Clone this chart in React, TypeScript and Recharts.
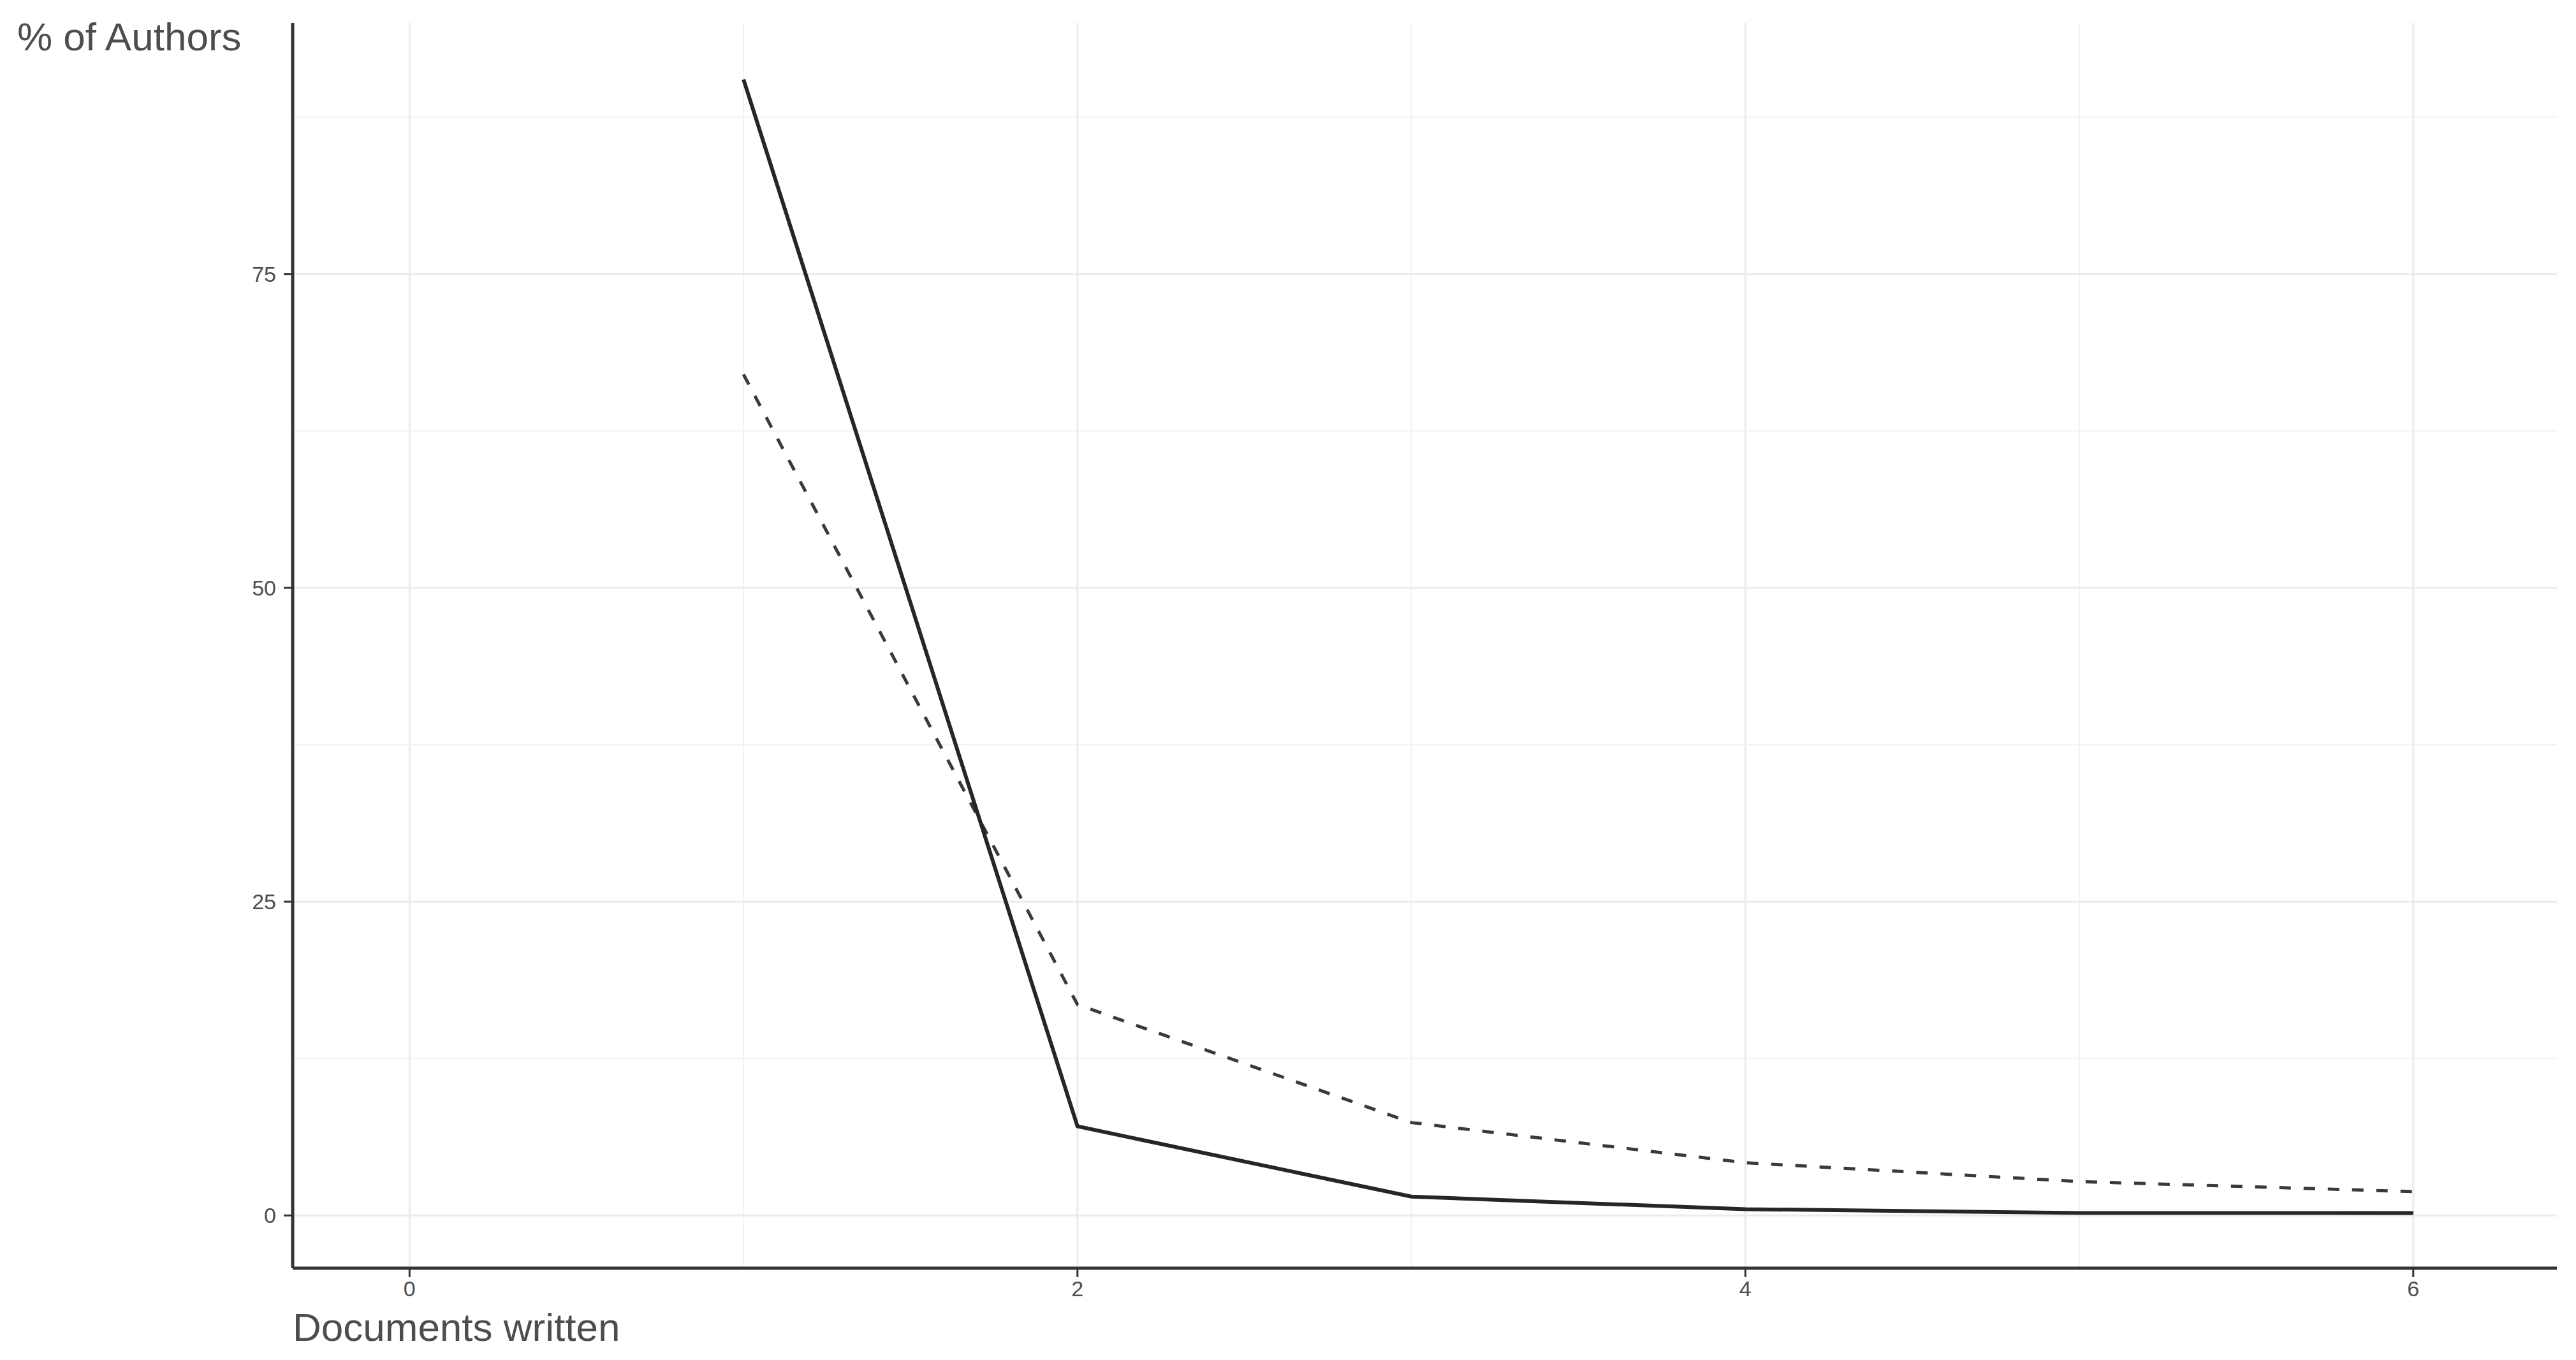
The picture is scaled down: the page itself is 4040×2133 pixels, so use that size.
import { LineChart, Line, XAxis, YAxis, ReferenceLine, Label } from 'recharts';

const documents = [1, 2, 3, 4, 5, 6];
const observed = [90.5, 7.1, 1.5, 0.5, 0.2, 0.2];
const theoretical = [67.0, 16.8, 7.4, 4.2, 2.7, 1.9];

const xTicks = [0, 2, 4, 6];
const xMinor = [1, 3, 5];
const yTicks = [0, 25, 50, 75];
const yMinor = [12.5, 37.5, 62.5, 87.5];

const data = documents.map((d, i) => ({ docs: d, observed: observed[i], theoretical: theoretical[i] }));

const FONT = '"Liberation Sans", Arial, Helvetica, sans-serif';
const AXIS = '#333333';
const TEXT = '#4d4d4d';

export default function App() {
    return (
        <div style={{ position: 'absolute', left: 0, top: 0, width: 4040, height: 2133, background: '#fff', fontFamily: FONT }}>
            <LineChart width={4040} height={2133} data={data} margin={{ top: 36, right: 30, left: 0, bottom: 0 }}>
                {xMinor.concat(xTicks).map((v) => (
                    <ReferenceLine key={'x' + v} x={v} stroke={xTicks.includes(v) ? '#ebebeb' : '#f2f2f2'} strokeWidth={xTicks.includes(v) ? 3 : 2} />
                ))}
                {yMinor.concat(yTicks).map((v) => (
                    <ReferenceLine key={'y' + v} y={v} stroke={yTicks.includes(v) ? '#ebebeb' : '#f2f2f2'} strokeWidth={yTicks.includes(v) ? 3 : 2} />
                ))}
                <XAxis
                    dataKey="docs"
                    type="number"
                    domain={[-0.35, 6.43]}
                    ticks={xTicks}
                    allowDataOverflow
                    height={144}
                    axisLine={{ stroke: AXIS, strokeWidth: 5 }}
                    tickLine={{ stroke: AXIS, strokeWidth: 3 }}
                    tickSize={14}
                    tickMargin={6}
                    tick={{ fill: TEXT, fontSize: 34, fontFamily: FONT }}
                >
                    <Label
                        content={(p: any) => (
                            <text x={p.viewBox.x} y={p.viewBox.y + 114} fill={TEXT} fontSize={62} fontFamily={FONT}>
                                Documents written
                            </text>
                        )}
                    />
                </XAxis>
                <YAxis
                    type="number"
                    domain={[-4.2, 95]}
                    ticks={yTicks}
                    allowDataOverflow
                    width={459}
                    axisLine={{ stroke: AXIS, strokeWidth: 5 }}
                    tickLine={{ stroke: AXIS, strokeWidth: 3 }}
                    tickSize={14}
                    tickMargin={12}
                    tick={{ fill: TEXT, fontSize: 34, fontFamily: FONT }}
                >
                    <Label
                        content={(p: any) => (
                            <text x={p.viewBox.x + 27} y={p.viewBox.y + 43} fill={TEXT} fontSize={62} fontFamily={FONT}>
                                % of Authors
                            </text>
                        )}
                    />
                </YAxis>
                <Line type="linear" dataKey="theoretical" stroke="#3a3a3a" strokeWidth={5} strokeDasharray="18 20" dot={false} isAnimationActive={false} />
                <Line type="linear" dataKey="observed" stroke="#262626" strokeWidth={6} dot={false} isAnimationActive={false} />
            </LineChart>
        </div>
    );
}
